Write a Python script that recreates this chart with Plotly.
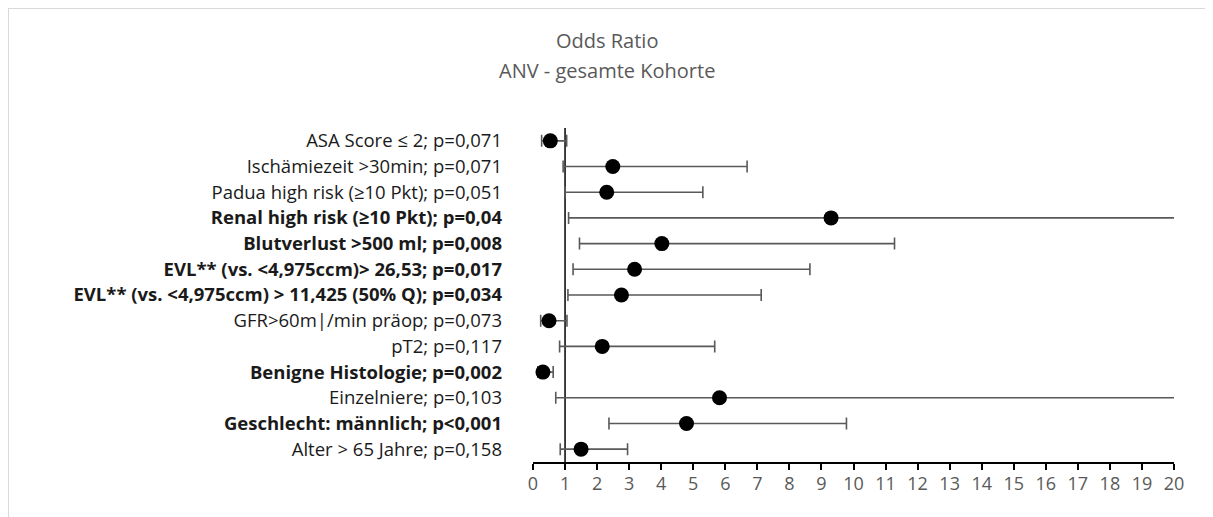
import plotly.graph_objects as go

labels = [
    "ASA Score ≤ 2; p=0,071",
    "Ischämiezeit >30min; p=0,071",
    "Padua high risk (≥10 Pkt); p=0,051",
    "<b>Renal high risk (≥10 Pkt); p=0,04</b>",
    "<b>Blutverlust >500 ml; p=0,008</b>",
    "<b>EVL** (vs. <4,975ccm)> 26,53; p=0,017</b>",
    "<b>EVL** (vs. <4,975ccm) > 11,425 (50% Q); p=0,034</b>",
    "GFR>60m|/min präop; p=0,073",
    "pT2; p=0,117",
    "<b>Benigne Histologie; p=0,002</b>",
    "Einzelniere; p=0,103",
    "<b>Geschlecht: männlich; p<0,001</b>",
    "Alter > 65 Jahre; p=0,158",
]
odds_ratio = [0.54, 2.49, 2.30, 9.30, 4.02, 3.17, 2.76, 0.50, 2.16, 0.31, 5.82, 4.79, 1.50]
ci_lower = [0.27, 0.94, 1.00, 1.11, 1.45, 1.25, 1.09, 0.24, 0.83, 0.15, 0.71, 2.37, 0.85]
ci_upper = [1.05, 6.68, 5.30, 25.0, 11.28, 8.64, 7.12, 1.06, 5.67, 0.63, 24.0, 9.78, 2.95]
x_ticks = list(range(0, 21))

# page body has an 8px margin, so the figure is laid out in page pixels minus 8
OFF = 8
PAGE_W, PAGE_H = 1213, 517
W, H = PAGE_W - OFF, PAGE_H - OFF
ML, MR, MT, MB = 533 - OFF, PAGE_W - 1174, 128 - OFF, PAGE_H - 462
pw = W - ML - MR
ph = H - MT - MB

def px_x(p):  # page pixel -> paper x
    return (p - OFF - ML) / pw

def px_y(p):  # page pixel -> paper y
    return (H - MB - (p - OFF)) / ph

GRAY = "#595959"

fig = go.Figure()
fig.add_trace(go.Scatter(
    x=odds_ratio,
    y=list(range(len(labels))),
    mode="markers",
    marker=dict(color="black", size=15, symbol="circle"),
    error_x=dict(
        type="data", symmetric=False,
        array=[u - o for u, o in zip(ci_upper, odds_ratio)],
        arrayminus=[o - l for o, l in zip(odds_ratio, ci_lower)],
        color=GRAY, thickness=1.6, width=6,
    ),
    cliponaxis=True,
    showlegend=False,
))

shapes = [
    # reference line at OR = 1
    dict(type="line", xref="x", yref="paper", x0=1, x1=1, y0=0, y1=1,
         line=dict(color="black", width=1.5), layer="below"),
    # outer frame (top & left edge)
    dict(type="line", xref="paper", yref="paper", x0=px_x(8), x1=px_x(PAGE_W + 5),
         y0=px_y(8), y1=px_y(8), line=dict(color="#d9d9d9", width=2)),
    dict(type="line", xref="paper", yref="paper", x0=px_x(8), x1=px_x(8),
         y0=px_y(8), y1=px_y(PAGE_H + 5), line=dict(color="#d9d9d9", width=2)),
]

fig.update_layout(
    width=W, height=H,
    margin=dict(l=ML, r=MR, t=MT, b=MB, pad=0),
    paper_bgcolor="white", plot_bgcolor="white",
    font=dict(family="Open Sans", color="#1a1a1a"),
    shapes=shapes,
    annotations=[
        dict(text="Odds Ratio", xref="paper", yref="paper",
             x=px_x(607), y=px_y(41), xanchor="center", yanchor="middle",
             showarrow=False, font=dict(size=20, color=GRAY, family="Open Sans")),
        dict(text="ANV - gesamte Kohorte", xref="paper", yref="paper",
             x=px_x(607), y=px_y(70), xanchor="center", yanchor="middle",
             showarrow=False, font=dict(size=20, color=GRAY, family="Open Sans")),
    ],
    xaxis=dict(
        range=[0, 20], tickmode="array", tickvals=x_ticks,
        ticktext=[str(t) for t in x_ticks],
        showgrid=False, zeroline=False,
        showline=True, linecolor="black", linewidth=2,
        ticks="outside", ticklen=6, tickwidth=2, tickcolor="black",
        ticklabelstandoff=-2,
        tickfont=dict(size=18, color=GRAY, family="Open Sans"),
        fixedrange=True,
    ),
    yaxis=dict(
        range=[len(labels) - 0.5, -0.5],
        tickmode="array", tickvals=list(range(len(labels))), ticktext=labels,
        showgrid=False, zeroline=False, showline=False,
        ticks="", ticklabelstandoff=30,
        tickfont=dict(size=18.5, color="#1a1a1a", family="Open Sans"),
        fixedrange=True,
    ),
)

fig.write_html("out.html")
